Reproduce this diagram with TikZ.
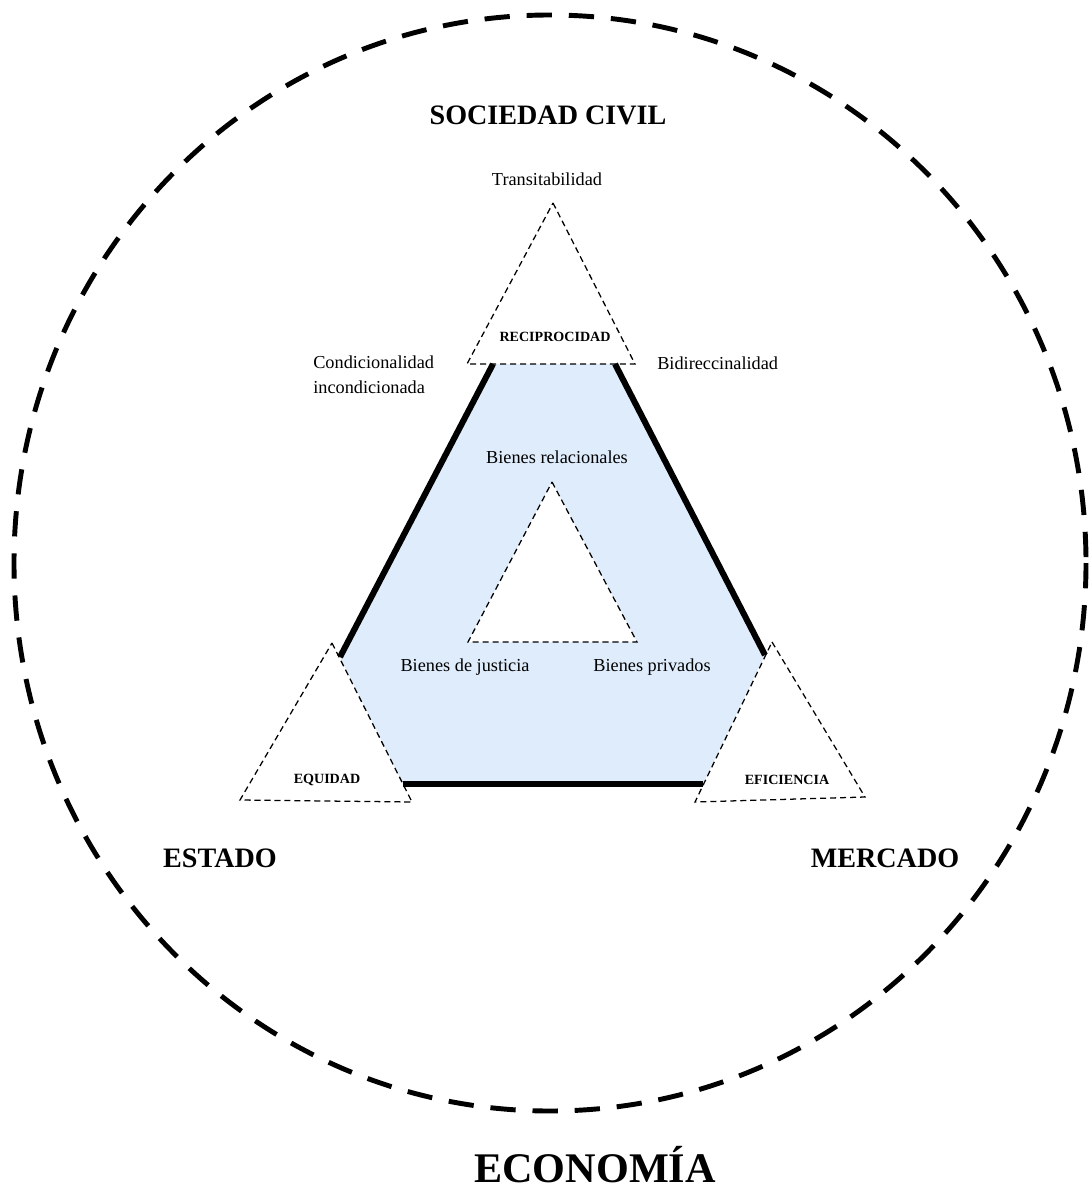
\documentclass[tikz,border=0pt]{standalone}
\usepackage{fontspec}
\setmainfont{Liberation Serif}
\definecolor{relfill}{RGB}{223,236,252}
\begin{document}
\begin{tikzpicture}[x=0.025cm,y=-0.025cm,
   economy/.style={line width=3.5pt, dash pattern=on 18pt off 12pt},
   tridash/.style={line width=0.9pt, dash pattern=on 4.3pt off 2.8pt},
   thickside/.style={line width=4.3pt},
   sector/.style={font=\fontsize{20}{24}\selectfont\bfseries, inner sep=0pt},
   corner/.style={font=\fontsize{10}{12}\selectfont\bfseries, inner sep=0pt},
   value/.style={font=\fontsize{13}{17.7}\selectfont, inner sep=0pt}]
\useasboundingbox (0,0) rectangle (1088,1189);

% corner triangles
\coordinate (rT) at (553,203); \coordinate (rL) at (467,364); \coordinate (rR) at (635,364);
\coordinate (eT) at (332,643); \coordinate (eL) at (240,800); \coordinate (eR) at (412,802);
\coordinate (fT) at (772,642); \coordinate (fL) at (695,802); \coordinate (fR) at (865,797);
% relational goods area
\coordinate (hTL) at (493,364); \coordinate (hTR) at (615,364);
\coordinate (hR) at (765,655); \coordinate (hBR) at (703,784);
\coordinate (hBL) at (403,784); \coordinate (hL) at (340,657);
% inner triangle
\coordinate (iT) at (552,482); \coordinate (iL) at (468,642); \coordinate (iR) at (637,642);

\draw[economy] (550,563) ellipse [x radius=536, y radius=548];

\fill[relfill] (hTL) -- (hTR) -- (hR) -- (hBR) -- (hBL) -- (hL) -- cycle;
\draw[tridash, fill=white] (iT) -- (iR) -- (iL) -- cycle;

\draw[tridash] (rT) -- (rR) -- (rL) -- cycle;
\draw[tridash] (eT) -- (eR) -- (eL) -- cycle;
\draw[tridash] (fT) -- (fR) -- (fL) -- cycle;

\draw[thickside] (hTL) -- (hL);
\draw[thickside] (hTR) -- (hR);
\draw[thickside] (hBL) -- (hBR);

\node[sector] (soc) at (548,115) {SOCIEDAD CIVIL};
\node[sector] (est) at (220,858) {ESTADO};
\node[sector] (merc) at (885,858) {MERCADO};
\node[font=\fontsize{30}{36}\selectfont\bfseries, inner sep=0pt, anchor=base] (eco) at (595,1182) {ECONOMÍA};

\node[corner] (recip) at (555,337) {RECIPROCIDAD};
\node[corner] (equi) at (327,780) {EQUIDAD};
\node[corner] (efic) at (787,780) {EFICIENCIA};

\node[value] (trans) at (547,179) {Transitabilidad};
\node[value, anchor=west, align=left] (cond) at (313,375) {Condicionalidad\\incondicionada};
\node[value, anchor=west] (bidir) at (657,363) {Bidireccinalidad};
\node[value] (brel) at (557,457) {Bienes relacionales};
\node[value] (bjus) at (465,667) {Bienes de justicia};
\node[value] (bpriv) at (652,667) {Bienes privados};

\end{tikzpicture}
\end{document}
